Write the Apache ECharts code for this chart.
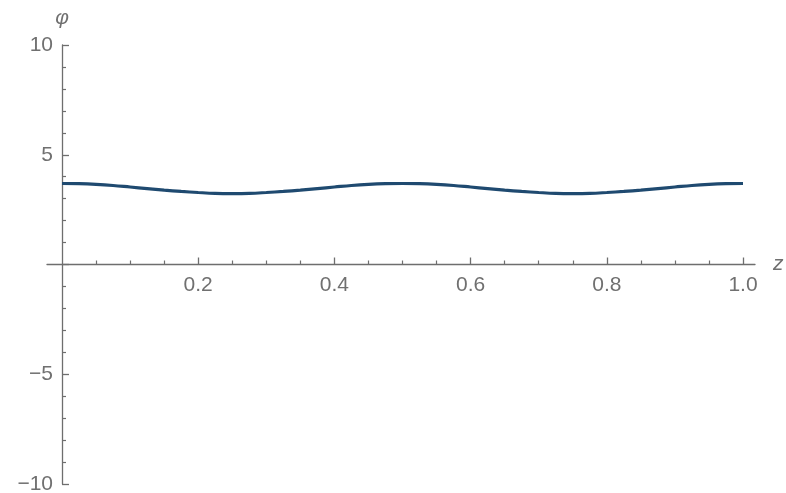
<!DOCTYPE html>
<html>
<head>
<meta charset="utf-8">
<script src="https://cdn.jsdelivr.net/npm/echarts@6/dist/echarts.min.js"></script>
<style>
  html, body { margin: 0; padding: 0; background: #ffffff; }
  #chart { width: 786px; height: 493px; }
</style>
</head>
<body>
<div id="chart"></div>
<script>
// Data
const zValues   = [0, 0.025, 0.05, 0.075, 0.1, 0.125, 0.15, 0.175, 0.2, 0.225, 0.25,
                   0.275, 0.3, 0.325, 0.35, 0.375, 0.4, 0.425, 0.45, 0.475, 0.5,
                   0.525, 0.55, 0.575, 0.6, 0.625, 0.65, 0.675, 0.7, 0.725, 0.75,
                   0.775, 0.8, 0.825, 0.85, 0.875, 0.9, 0.925, 0.95, 0.975, 1.0];
const phiValues = [3.69, 3.68, 3.65, 3.60, 3.53, 3.46, 3.39, 3.33, 3.28, 3.24, 3.23,
                   3.24, 3.28, 3.33, 3.39, 3.46, 3.53, 3.60, 3.65, 3.68, 3.69,
                   3.68, 3.65, 3.60, 3.53, 3.46, 3.39, 3.33, 3.28, 3.24, 3.23,
                   3.24, 3.28, 3.33, 3.39, 3.46, 3.53, 3.60, 3.65, 3.68, 3.69];
const xMajorTicks = [0.2, 0.4, 0.6, 0.8, 1.0];
const xMinorTicks = [0.05, 0.1, 0.15, 0.25, 0.3, 0.35, 0.45, 0.5, 0.55, 0.65, 0.7, 0.75, 0.85, 0.9, 0.95];
const yTickLabels = [-10, -5, 5, 10];

const axisColor = '#6e6e6e';
const labelColor = '#707070';
const fontFamily = '"Liberation Sans", Arial, sans-serif';

const chart = echarts.init(document.getElementById('chart'), null, { renderer: 'canvas' });

// axis line of z extends slightly beyond the data range, like the reference
const xMin = -0.022, xMax = 1.0176;

chart.setOption({
  animation: false,
  backgroundColor: '#ffffff',
  grid: [
    // data grid
    { left: 62, right: 43, top: 45, bottom: 9, containLabel: false, outerBoundsMode: 'none' },
    // grid whose bottom edge is the z axis (phi = 0)
    { left: 47, right: 31, top: 45, bottom: 228.5, containLabel: false, outerBoundsMode: 'none' }
  ],
  xAxis: [
    {
      gridIndex: 0, type: 'value', min: 0, max: 1, show: false
    },
    {
      gridIndex: 1, type: 'value', min: xMin, max: xMax, position: 'bottom',
      name: 'z', nameLocation: 'end', nameGap: 18,
      nameTextStyle: { color: labelColor, fontStyle: 'italic', fontSize: 21, fontFamily: fontFamily, padding: [8, 0, 0, 0] },
      axisLine: { show: true, onZero: false, lineStyle: { color: axisColor, width: 1.3 } },
      axisTick: { show: true, inside: true, length: 7, customValues: xMajorTicks, lineStyle: { color: axisColor, width: 1.3 } },
      axisLabel: { show: true, customValues: xMajorTicks, margin: 10, color: labelColor, fontSize: 21, fontFamily: fontFamily,
        formatter: v => v.toFixed(1) },
      splitLine: { show: false }
    },
    {
      gridIndex: 1, type: 'value', min: xMin, max: xMax, position: 'bottom',
      axisLine: { show: false, onZero: false },
      axisTick: { show: true, inside: true, length: 4, customValues: xMinorTicks, lineStyle: { color: axisColor, width: 1.2 } },
      axisLabel: { show: false },
      splitLine: { show: false }
    }
  ],
  yAxis: [
    {
      gridIndex: 0, type: 'value', min: -10, max: 10, interval: 5, position: 'left',
      name: 'φ', nameLocation: 'end', nameGap: 16,
      nameTextStyle: { color: labelColor, fontStyle: 'italic', fontSize: 21, fontFamily: fontFamily, align: 'center' },
      axisLine: { show: true, onZero: false, lineStyle: { color: axisColor, width: 1.3 } },
      axisTick: { show: true, inside: true, length: 7, lineStyle: { color: axisColor, width: 1.3 } },
      minorTick: { show: true, splitNumber: 5, length: 4, lineStyle: { color: axisColor, width: 1.2 } },
      axisLabel: { show: true, margin: 9, color: labelColor, fontSize: 21, fontFamily: fontFamily,
        formatter: v => (yTickLabels.indexOf(v) >= 0 ? String(v).replace('-', '\u2212') : '') },
      splitLine: { show: false },
      minorSplitLine: { show: false }
    },
    {
      gridIndex: 1, type: 'value', min: 0, max: 10, show: false
    }
  ],
  series: [{
    type: 'line',
    xAxisIndex: 0,
    yAxisIndex: 0,
    data: zValues.map((z, i) => [z, phiValues[i]]),
    smooth: 0.4,
    showSymbol: false,
    lineStyle: { color: '#1f4a70', width: 3.2 },
    z: 3
  }]
});
</script>
</body>
</html>
